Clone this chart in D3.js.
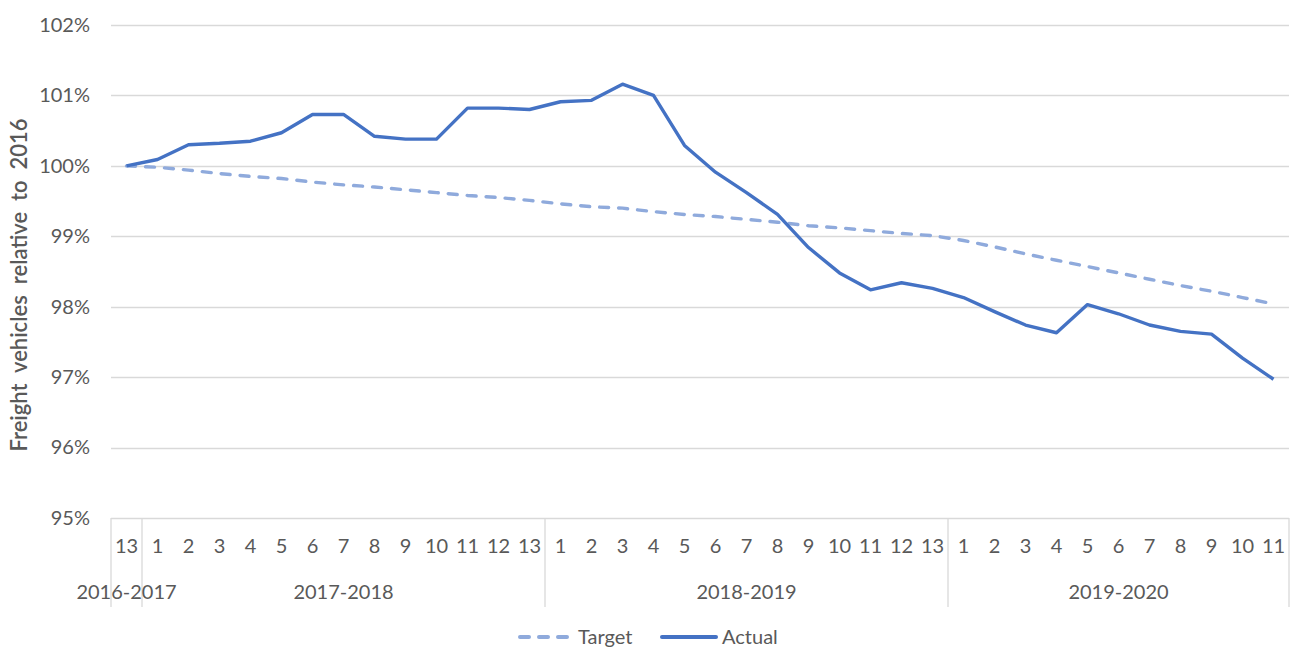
<!DOCTYPE html>
<html>
<head>
<meta charset="utf-8">
<script src="https://cdn.jsdelivr.net/npm/d3@7"></script>
<style>
  body { margin: 0; background: #fff; }
  text { font-family: Lato, "Liberation Sans", sans-serif; fill: #595959; }
</style>
</head>
<body>
<svg id="chart" width="1295" height="648"></svg>
<script>
const svgEl = document.getElementById("chart")
const width = +svgEl.getAttribute('width')
const height = +svgEl.getAttribute('height')
var svg = d3.select('#chart')

// dati
const groupLabels = ["2016-2017", "2017-2018", "2018-2019", "2019-2020"]
const groupSizes = [1, 13, 13, 11]
const periods = ["13",
  "1","2","3","4","5","6","7","8","9","10","11","12","13",
  "1","2","3","4","5","6","7","8","9","10","11","12","13",
  "1","2","3","4","5","6","7","8","9","10","11"]
const target = [100.00,
  99.98, 99.94, 99.89, 99.85, 99.82, 99.77, 99.73, 99.70, 99.66, 99.62, 99.58, 99.55, 99.51,
  99.46, 99.42, 99.40, 99.35, 99.31, 99.28, 99.24, 99.20, 99.15, 99.12, 99.08, 99.04, 99.01,
  98.94, 98.85, 98.75, 98.66, 98.57, 98.48, 98.39, 98.30, 98.22, 98.13, 98.04]
const actual = [100.00,
  100.09, 100.30, 100.32, 100.35, 100.47, 100.73, 100.73, 100.42, 100.38, 100.38, 100.82, 100.82, 100.80,
  100.91, 100.93, 101.16, 101.00, 100.29, 99.91, 99.62, 99.31, 98.84, 98.48, 98.24, 98.34, 98.26,
  98.13, 97.93, 97.74, 97.63, 98.03, 97.90, 97.74, 97.65, 97.61, 97.27, 96.97]
const yTicks = [95, 96, 97, 98, 99, 100, 101, 102]

var actual_color = "#4472C4"
var target_color = "#8FAADC"
var grid_color = "#D9D9D9"

const pLeft = 111, pRight = 1289, pTop = 25, pBottom = 518

var x = d3.scaleBand().domain(d3.range(periods.length)).range([pLeft, pRight])
var y = d3.scaleLinear().domain([95, 102]).range([pBottom, pTop])

// griglia
svg.append('g')
  .selectAll('line')
  .data(yTicks).enter()
  .append('line')
  .attr('x1', pLeft).attr('x2', pRight)
  .attr('y1', d => Math.round(y(d)) + 0.5).attr('y2', d => Math.round(y(d)) + 0.5)
  .attr('stroke', grid_color).attr('stroke-width', 1.3)

// asse y
var asseY = d3.axisLeft(y).tickValues(yTicks).tickSize(0).tickPadding(21).tickFormat(d => d + "%")
svg.append('g')
  .attr('transform', `translate(${pLeft}, 0)`)
  .call(asseY)
  .call(g => g.select('.domain').remove())
  .selectAll('text')
  .style('font-size', '20px')

// asse x: periodi
var asseX = d3.axisBottom(x).tickSize(0).tickPadding(21).tickFormat(i => periods[i])
svg.append('g')
  .attr('transform', `translate(0, ${pBottom})`)
  .call(asseX)
  .call(g => g.select('.domain').remove())
  .selectAll('text')
  .style('font-size', '20px')

// separatori dei gruppi
var bounds = [0]
groupSizes.forEach(n => bounds.push(bounds[bounds.length - 1] + n))
svg.append('g')
  .selectAll('line')
  .data(bounds).enter()
  .append('line')
  .attr('x1', d => d < periods.length ? x(d) : pRight)
  .attr('x2', d => d < periods.length ? x(d) : pRight)
  .attr('y1', pBottom).attr('y2', 607)
  .attr('stroke', grid_color).attr('stroke-width', 1.3)

// etichette dei gruppi
svg.append('g')
  .selectAll('text')
  .data(groupLabels).enter()
  .append('text')
  .attr('x', (d, i) => {
    var a = x(bounds[i])
    var b = bounds[i + 1] < periods.length ? x(bounds[i + 1]) : pRight
    return (a + b) / 2
  })
  .attr('y', 599)
  .attr('text-anchor', 'middle')
  .style('font-size', '20px')
  .text(d => d)

// linee
var line = d3.line()
  .x((d, i) => x(i) + x.bandwidth() / 2)
  .y(d => y(d))

svg.append('path')
  .datum(target)
  .attr('d', line)
  .attr('fill', 'none')
  .attr('stroke', target_color)
  .attr('stroke-width', 3.4)
  .attr('stroke-dasharray', '9,10')
  .attr('stroke-linecap', 'round')

svg.append('path')
  .datum(actual)
  .attr('d', line)
  .attr('fill', 'none')
  .attr('stroke', actual_color)
  .attr('stroke-width', 3.4)
  .attr('stroke-linejoin', 'round')

// titolo asse y
svg.append('text')
  .attr('transform', `translate(27, 285) rotate(-90)`)
  .attr('text-anchor', 'middle')
  .style('font-size', '22px')
  .style('font-weight', '600')
  .style('white-space', 'pre')
  .text("Freight  vehicles  relative  to  2016")

// legenda
var legenda = svg.append('g')
legenda.append('line')
  .attr('x1', 520).attr('x2', 568).attr('y1', 637).attr('y2', 637)
  .attr('stroke', target_color).attr('stroke-width', 4)
  .attr('stroke-dasharray', '9,10').attr('stroke-linecap', 'round')
legenda.append('text')
  .attr('x', 578).attr('y', 644).style('font-size', '20px').text("Target")
legenda.append('line')
  .attr('x1', 662).attr('x2', 716).attr('y1', 637).attr('y2', 637)
  .attr('stroke', actual_color).attr('stroke-width', 4).attr('stroke-linecap', 'round')
legenda.append('text')
  .attr('x', 722).attr('y', 644).style('font-size', '20px').text("Actual")
</script>
</body>
</html>
